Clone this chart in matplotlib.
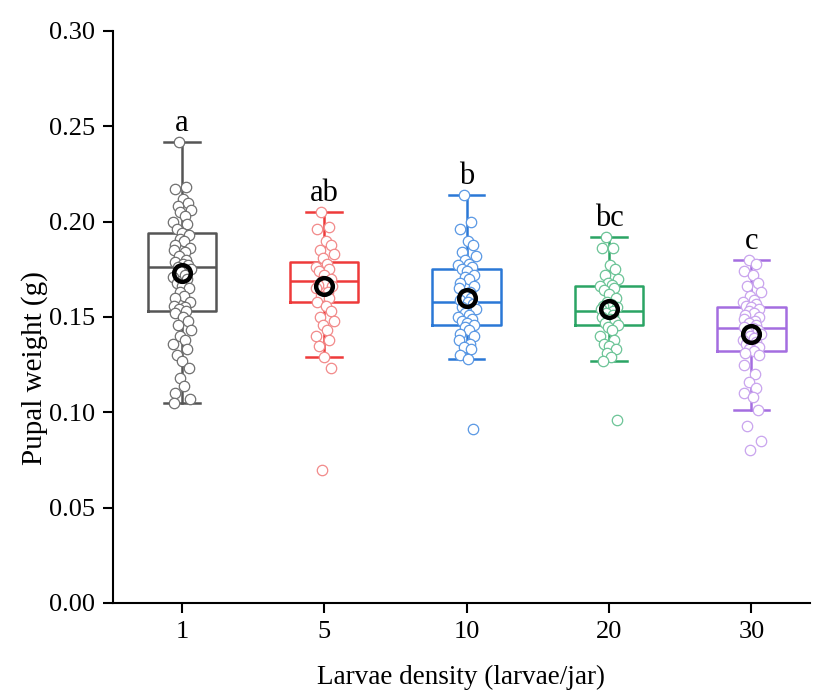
import matplotlib.pyplot as plt

plt.rcParams['font.family'] = ['Liberation Serif', 'DejaVu Serif']

# Groups and significance letters
densities = ['1', '5', '10', '20', '30']
letters = ['a', 'ab', 'b', 'bc', 'c']

# Box statistics: whislo, q1, med, q3, whishi, mean
whislo = [0.105, 0.129, 0.128, 0.127, 0.101]
q1 = [0.153, 0.158, 0.146, 0.146, 0.132]
med = [0.176, 0.169, 0.158, 0.153, 0.144]
q3 = [0.194, 0.179, 0.175, 0.166, 0.155]
whishi = [0.242, 0.205, 0.214, 0.192, 0.180]
means = [0.173, 0.166, 0.160, 0.154, 0.141]

# Individual pupal weights (g)
w1 = [0.242, 0.218, 0.217, 0.212, 0.210, 0.208, 0.206, 0.205, 0.203, 0.200,
      0.199, 0.196, 0.194, 0.193, 0.191, 0.190, 0.188, 0.186, 0.185, 0.184,
      0.182, 0.180, 0.179, 0.178, 0.177, 0.176, 0.175, 0.174, 0.172, 0.171,
      0.170, 0.168, 0.166, 0.165, 0.163, 0.161, 0.160, 0.158, 0.156, 0.155,
      0.154, 0.153, 0.152, 0.150, 0.148, 0.146, 0.143, 0.140, 0.138, 0.136,
      0.133, 0.130, 0.127, 0.123, 0.118, 0.114, 0.110, 0.107, 0.105]
w5 = [0.205, 0.197, 0.196, 0.190, 0.188, 0.185, 0.183, 0.181, 0.178, 0.176,
      0.175, 0.174, 0.172, 0.170, 0.169, 0.168, 0.167, 0.166, 0.165, 0.163,
      0.161, 0.160, 0.158, 0.156, 0.153, 0.150, 0.148, 0.146, 0.143, 0.140,
      0.138, 0.135, 0.129, 0.123, 0.070]
w10 = [0.214, 0.200, 0.196, 0.190, 0.188, 0.184, 0.182, 0.180, 0.178, 0.177,
       0.176, 0.175, 0.174, 0.172, 0.171, 0.170, 0.168, 0.166, 0.165, 0.163,
       0.162, 0.160, 0.159, 0.158, 0.157, 0.155, 0.154, 0.152, 0.151, 0.150,
       0.149, 0.148, 0.147, 0.146, 0.145, 0.143, 0.141, 0.140, 0.138, 0.136,
       0.134, 0.133, 0.130, 0.128, 0.091]
w20 = [0.192, 0.186, 0.186, 0.177, 0.175, 0.172, 0.170, 0.168, 0.167, 0.166,
       0.165, 0.164, 0.162, 0.160, 0.158, 0.157, 0.156, 0.155, 0.154, 0.153,
       0.152, 0.151, 0.150, 0.149, 0.148, 0.147, 0.146, 0.145, 0.143, 0.140,
       0.138, 0.136, 0.135, 0.133, 0.131, 0.129, 0.127, 0.096]
w30 = [0.180, 0.178, 0.174, 0.172, 0.168, 0.166, 0.163, 0.161, 0.159, 0.158,
       0.157, 0.156, 0.155, 0.154, 0.153, 0.152, 0.151, 0.150, 0.149, 0.148,
       0.147, 0.146, 0.145, 0.144, 0.143, 0.142, 0.141, 0.140, 0.139, 0.138,
       0.137, 0.136, 0.135, 0.134, 0.133, 0.132, 0.131, 0.130, 0.125, 0.120,
       0.116, 0.113, 0.110, 0.108, 0.101, 0.093, 0.085, 0.080]
weights = [w1, w5, w10, w20, w30]

box_colors = ['#555555', '#ee3a3a', '#2a78d6', '#2aa464', '#a46de0']
pt_colors = ['#707070', '#f28a8a', '#5a98e4', '#6cc497', '#c9a4ee']

# fixed scatter pattern for the horizontal spread of points
spread = [-0.02, 0.03, -0.05, 0.01, 0.045, -0.03, 0.065, -0.01, 0.02, -0.06,
          0.035, -0.035, 0.0, 0.05, -0.015, 0.015, -0.045, 0.055, -0.055, 0.025]

fig = plt.figure(figsize=(8.14, 6.93), dpi=100)
ax = fig.add_axes([0.1388, 0.1299, 0.856, 0.8254])

for i in range(5):
    c = box_colors[i]
    st = dict(whislo=whislo[i], q1=q1[i], med=med[i], q3=q3[i],
              whishi=whishi[i], fliers=[])
    ax.bxp([st], positions=[i], widths=0.48, showfliers=False,
           boxprops=dict(color=c, linewidth=1.8),
           medianprops=dict(color=c, linewidth=1.8),
           whiskerprops=dict(color=c, linewidth=1.8),
           capprops=dict(color=c, linewidth=1.8), capwidths=0.25)
    xs = [i + spread[k % len(spread)] for k in range(len(weights[i]))]
    ax.plot(xs, weights[i], 'o', markerfacecolor='white',
            markeredgecolor=pt_colors[i], markeredgewidth=0.9,
            markersize=7.5, linestyle='none', zorder=4)
    # group mean
    ax.plot(i, means[i], 'o', markerfacecolor='none', markeredgecolor='black',
            markeredgewidth=3.2, markersize=12, zorder=5)
    ax.text(i, whishi[i] + 0.002, letters[i], ha='center', va='bottom',
            fontsize=22)

ax.set_xlim(-0.484, 4.41)
ax.set_ylim(0, 0.30)
ax.set_xticks(range(5))
ax.set_xticklabels(densities)
ax.set_yticks([0, 0.05, 0.10, 0.15, 0.20, 0.25, 0.30])
ax.set_yticklabels(['0.00', '0.05', '0.10', '0.15', '0.20', '0.25', '0.30'])
ax.tick_params(direction='out', length=7, width=1.5, labelsize=19, pad=6)
for s in ['top', 'right']:
    ax.spines[s].set_visible(False)
for s in ['left', 'bottom']:
    ax.spines[s].set_linewidth(1.5)

ax.set_ylabel('Pupal weight (g)', fontsize=21)
ax.yaxis.set_label_coords(-0.093, 0.41)
ax.set_xlabel('Larvae density (larvae/jar)', fontsize=19.5, labelpad=16)

fig.savefig('out.png', dpi=100)
